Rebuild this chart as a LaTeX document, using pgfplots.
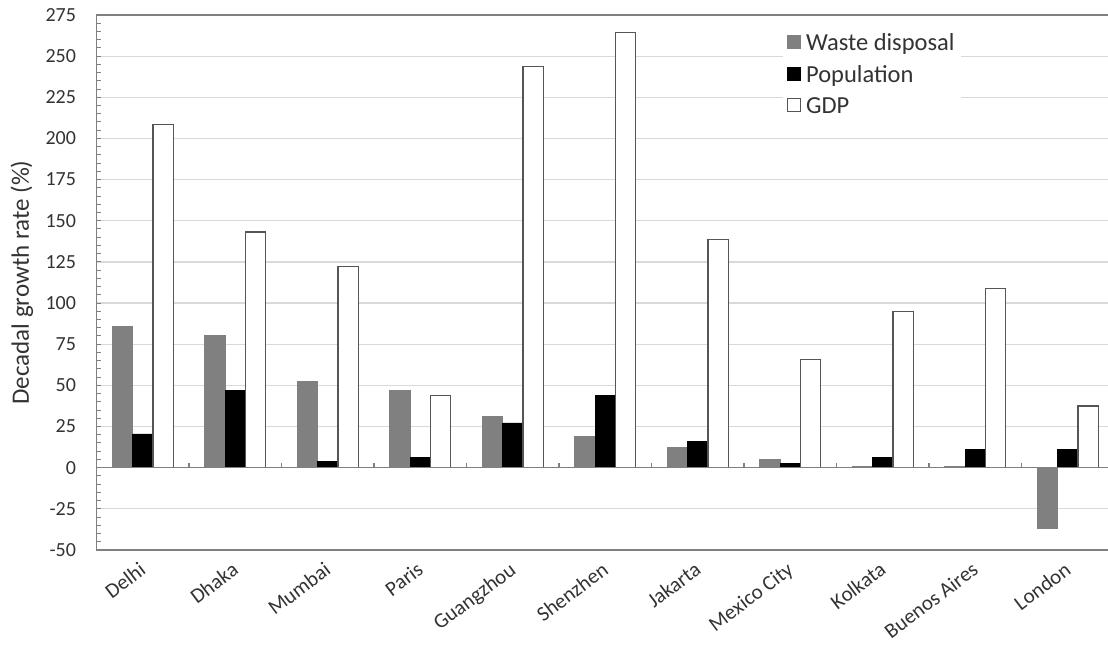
\documentclass[border=0pt]{standalone}
\usepackage{fontspec}
\setmainfont{Carlito}
\usepackage{pgfplots}
\pgfplotsset{compat=1.18}
\definecolor{axgray}{HTML}{808080}
\definecolor{gridgray}{HTML}{D9D9D9}
\definecolor{wastegray}{HTML}{808080}
\definecolor{txt}{HTML}{333333}
\definecolor{bordergray}{HTML}{555555}
\begin{document}
\begin{tikzpicture}
\begin{axis}[
  name=ax,
  width=1017.5pt, height=535pt, scale only axis,
  xmin=-0.5, xmax=10.5, ymin=-50, ymax=275,
  axis x line=box, axis y line=left,
  ytick={-50,-25,...,275}, minor y tick num=4,
  ymajorgrids, grid style={draw=gridgray, line width=1.2pt},
  xtick={0,...,10},
  xticklabels={Delhi,Dhaka,Mumbai,Paris,Guangzhou,Shenzhen,Jakarta,Mexico City,Kolkata,Buenos Aires,London},
  major x tick style={draw=none},
  x tick label style={xshift=-4pt, yshift=-3pt, rotate=37, anchor=north east, font=\fontsize{21}{24}\selectfont, text=txt, inner sep=2pt},
  y tick label style={font=\fontsize{20}{24}\selectfont, text=txt, xshift=-17pt},
  /pgf/number format/assume math mode=true,
  tick align=inside, ytick pos=left, xtick pos=bottom,
  major tick length=5pt, minor tick length=5pt,
  tick style={draw=axgray, line width=1pt},
  axis line style={-, draw=axgray, line width=1.5pt},
  ylabel={Decadal growth rate (\%)},
  every axis y label/.style={at={(axis description cs:-0.059,0.5)}, rotate=90, anchor=south, font=\fontsize{25}{30}\selectfont, text=txt, inner sep=3pt},
  ybar, bar width=20.3pt,
  legend style={at={(0.6744,0.974)}, anchor=north west, draw=none, fill=white,
    font=\fontsize{24.5}{28}\selectfont, text=txt, row sep=9.5pt, inner xsep=4pt, inner ysep=2pt},
  legend cell align=left,
  legend image code/.code={\path[draw,fill,#1] (0pt,-6pt) rectangle (13pt,7pt); \path (16pt,0pt);},
  clip=false,
]
\addplot[fill=wastegray, draw=wastegray, line width=0.8pt, bar shift=-20.3pt] coordinates {
(0,86) (1,80.5) (2,52.5) (3,47) (4,31) (5,19) (6,12.2) (7,5) (8,0.5) (9,0.5) (10,-37)};
\addlegendentry{Waste disposal}
\addplot[fill=black, draw=black, line width=0.8pt, bar shift=0pt] coordinates {
(0,20.5) (1,47) (2,3.8) (3,6.3) (4,27.2) (5,44) (6,15.8) (7,2.4) (8,6.3) (9,11) (10,11)};
\addlegendentry{Population}
\addplot[fill=white, draw=bordergray, line width=1.2pt, bar shift=20.3pt] coordinates {
(0,208.5) (1,143.2) (2,122) (3,44) (4,243.5) (5,264.2) (6,138.5) (7,65.7) (8,95) (9,108.7) (10,37.5)};
\addlegendentry{GDP}
\draw[axgray, line width=1.5pt] (axis cs:-0.5,0) -- (axis cs:10.5,0);
\pgfplotsinvokeforeach{0.5,1.5,2.5,3.5,4.5,5.5,6.5,7.5,8.5,9.5}{ \draw[axgray, line width=1.2pt] (axis cs:#1,0) -- ++(0pt,5pt); }
\end{axis}
\pgfresetboundingbox
\path ([shift={(-96.5pt,-94pt)}]ax.south west) rectangle ([shift={(-6pt,15pt)}]ax.north east);
\end{tikzpicture}
\end{document}
